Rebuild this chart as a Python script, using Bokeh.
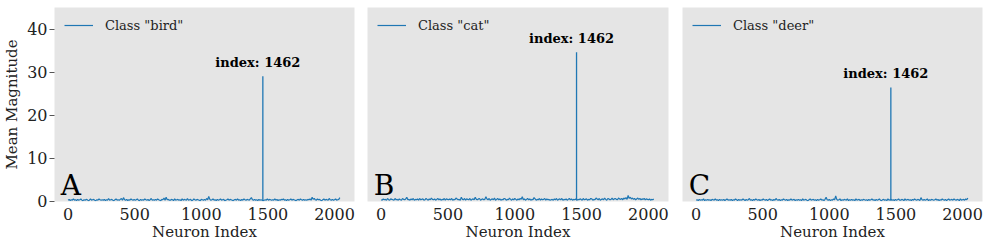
from bokeh.plotting import figure
from bokeh.layouts import row
from bokeh.models import Range1d, FixedTicker, Legend, LegendItem
from bokeh.core.properties import value
from bokeh.embed import file_html
from bokeh.resources import INLINE

# ---------------- data ----------------
class_names = ["bird", "cat", "deer"]
panel_letters = ["A", "B", "C"]
spike_index = 1462
spike_values = [29.0, 34.6, 26.4]
sample_step = 8  # neurons sampled every 8 indices (0 .. 2040)

# mean magnitudes of the non-dominant neurons, in tenths
noise_bird_tenths = [
    2, 4, 1, 3, 2, 5, 2, 3, 1, 4, 2, 3, 5, 2, 1, 3, 2, 4, 3, 1, 2, 5, 2, 3, 4, 2, 1, 3, 2, 5, 3, 2,
    3, 2, 4, 1, 3, 2, 6, 2, 3, 4, 2, 1, 3, 5, 2, 3, 2, 4, 6, 2, 8, 3, 2, 4, 1, 3, 2, 5, 3, 2, 4, 2,
    3, 5, 2, 1, 4, 2, 3, 2, 5, 3, 2, 4, 1, 3, 6, 2, 3, 2, 4, 2, 5, 3, 2, 1, 4, 3, 7, 2, 9, 3, 4, 2,
    2, 4, 3, 1, 5, 2, 3, 4, 2, 3, 1, 5, 2, 4, 3, 2, 6, 2, 3, 4, 1, 2, 5, 3, 2, 4, 3, 2, 1, 4, 3, 2,
    4, 2, 6, 3, 11, 4, 2, 3, 5, 2, 3, 1, 4, 2, 3, 5, 2, 3, 4, 1, 2, 3, 5, 2, 4, 3, 2, 1, 3, 4, 2, 5,
    2, 3, 1, 4, 2, 5, 3, 2, 4, 3, 2, 5, 8, 3, 2, 4, 2, 3, 1, 4, 2, 3, 2, 1, 2, 3, 2, 5, 2, 4, 3, 2,
    3, 2, 5, 2, 4, 1, 3, 2, 4, 3, 5, 2, 3, 1, 4, 2, 3, 5, 2, 4, 3, 2, 1, 3, 4, 2, 5, 3, 2, 4, 2, 3,
    2, 4, 3, 5, 2, 9, 4, 6, 3, 2, 5, 3, 4, 2, 1, 3, 5, 2, 4, 3, 2, 6, 3, 2, 4, 2, 3, 5, 2, 3, 4, 8,
]
noise_cat_tenths = [
    3, 2, 5, 3, 4, 2, 6, 3, 2, 5, 4, 3, 2, 6, 3, 4, 2, 5, 3, 2, 6, 4, 3, 5, 9, 3, 4, 2, 5, 3, 6, 2,
    4, 3, 5, 2, 6, 3, 4, 5, 2, 3, 6, 4, 2, 5, 3, 7, 4, 3, 5, 2, 4, 6, 3, 5, 2, 4, 3, 6, 2, 5, 4, 3,
    5, 3, 6, 2, 4, 3, 7, 5, 3, 4, 2, 9, 4, 3, 6, 2, 5, 4, 3, 6, 2, 4, 5, 3, 9, 4, 3, 5, 6, 2, 4, 5,
    3, 4, 10, 5, 3, 6, 2, 4, 5, 3, 7, 2, 4, 6, 3, 5, 2, 4, 3, 6, 5, 2, 4, 3, 7, 4, 2, 5, 3, 6, 4, 2,
    5, 3, 6, 4, 10, 3, 5, 2, 4, 6, 3, 5, 2, 4, 3, 8, 5, 2, 4, 3, 6, 2, 5, 3, 4, 6, 2, 5, 3, 4, 2, 3,
    4, 2, 5, 3, 6, 2, 4, 5, 3, 6, 2, 4, 3, 5, 2, 4, 6, 3, 5, 2, 4, 3, 5, 2, 4, 3, 5, 4, 2, 6, 3, 4,
    5, 2, 4, 3, 6, 5, 2, 4, 3, 7, 5, 3, 6, 2, 4, 5, 3, 7, 4, 2, 6, 5, 3, 4, 7, 3, 5, 6, 4, 3, 7, 5,
    4, 6, 3, 7, 5, 8, 4, 13, 6, 9, 5, 7, 4, 6, 3, 5, 7, 4, 6, 3, 5, 4, 6, 3, 5, 4, 3, 5, 2, 4, 3, 5,
]
noise_deer_tenths = [
    2, 3, 1, 4, 2, 3, 2, 5, 1, 3, 2, 4, 2, 3, 1, 4, 3, 2, 5, 2, 3, 1, 4, 2, 3, 2, 4, 1, 3, 5, 2, 3,
    2, 4, 1, 3, 2, 5, 3, 1, 4, 2, 3, 2, 5, 3, 1, 4, 2, 3, 6, 2, 3, 1, 4, 2, 5, 3, 2, 4, 1, 3, 2, 5,
    3, 2, 4, 1, 3, 5, 2, 3, 1, 4, 2, 6, 3, 2, 4, 1, 3, 2, 5, 3, 2, 4, 1, 3, 2, 5, 2, 3, 4, 1, 3, 2,
    4, 2, 3, 1, 5, 2, 3, 4, 2, 1, 3, 5, 2, 3, 4, 2, 3, 1, 4, 2, 3, 5, 2, 3, 1, 4, 9, 3, 2, 4, 1, 3,
    2, 5, 3, 12, 4, 2, 3, 5, 1, 3, 2, 4, 3, 2, 5, 1, 3, 2, 4, 2, 3, 1, 5, 2, 3, 4, 1, 3, 2, 4, 3, 2,
    3, 1, 4, 2, 3, 5, 2, 3, 1, 4, 2, 3, 5, 2, 1, 3, 4, 2, 3, 1, 5, 2, 3, 4, 2, 3, 1, 4, 2, 3, 5, 2,
    2, 4, 3, 1, 5, 2, 3, 4, 2, 3, 1, 4, 2, 5, 3, 2, 4, 3, 1, 8, 3, 2, 4, 2, 3, 5, 1, 3, 2, 4, 3, 2,
    3, 5, 2, 4, 1, 3, 2, 5, 3, 2, 4, 1, 3, 5, 2, 3, 4, 2, 5, 3, 2, 4, 3, 1, 5, 2, 3, 4, 2, 5, 3, 7,
]
noise_series = [noise_bird_tenths, noise_cat_tenths, noise_deer_tenths]

x_ticks = [0, 500, 1000, 1500, 2000]
y_ticks = [0, 10, 20, 30, 40]

# ---------------- style ----------------
LINE = "#1f77b4"
BG = "#e5e5e5"
SERIF = "DejaVu Serif"
TXT = "#222222"

widths = [360, 315, 320]
borders_left = [53, 7, 7]
borders_right = [6, 7, 13]
FIG_H = 248
BORDER_TOP = 7
BORDER_BOTTOM = 47
FRAME_H = FIG_H - BORDER_TOP - BORDER_BOTTOM

figs = []
for i, (name, letter, spike, noise) in enumerate(zip(class_names, panel_letters, spike_values, noise_series)):
    xs = [k * sample_step for k in range(len(noise))]
    ys = [v / 10 for v in noise]

    p = figure(width=widths[i], height=FIG_H, output_backend="svg", toolbar_location=None,
               x_range=Range1d(-102, 2150), y_range=Range1d(-0.1, 45),
               min_border_left=borders_left[i], min_border_right=borders_right[i],
               min_border_top=BORDER_TOP, min_border_bottom=BORDER_BOTTOM)
    p.background_fill_color = BG
    p.border_fill_color = "white"
    p.outline_line_color = None
    p.grid.visible = False

    r = p.line(xs, ys, line_color=LINE, line_width=1.2)
    # the dominant neuron
    p.segment(x0=[spike_index], y0=[min(ys)], x1=[spike_index], y1=[spike],
              line_color=LINE, line_width=1.3)

    # annotation
    p.text(x=[spike_index], y=[spike], text=[f"index: {spike_index}"],
           text_font=value(SERIF), text_font_style="bold", text_font_size="13px",
           text_align="center", text_baseline="alphabetic", x_offset=-5, y_offset=-14,
           text_color="black")
    # panel letter
    p.text(x=[-55], y=[0], text=[letter], text_font=value(SERIF),
           text_font_size="28px", text_align="left", text_baseline="alphabetic",
           y_offset=-16, text_color="black")

    legend = Legend(items=[LegendItem(label=f'Class "{name}"', renderers=[r])],
                    location=(10, FRAME_H - 18 - 9), padding=0, margin=0, spacing=0,
                    glyph_width=29, glyph_height=18, label_standoff=12,
                    label_text_font=SERIF, label_text_font_size="13px",
                    label_text_color=TXT,
                    background_fill_alpha=0, border_line_color=None)
    p.add_layout(legend)

    p.xaxis.ticker = FixedTicker(ticks=x_ticks)
    p.xaxis.axis_label = "Neuron Index"
    p.xaxis.major_tick_line_color = None
    p.xaxis.minor_tick_line_color = None
    p.xaxis.axis_line_color = None
    p.xaxis.major_label_text_font = SERIF
    p.xaxis.major_label_text_font_size = "16px"
    p.xaxis.major_label_text_color = TXT
    p.xaxis.major_label_standoff = 0
    p.xaxis.axis_label_text_font = SERIF
    p.xaxis.axis_label_text_font_size = "15px"
    p.xaxis.axis_label_text_font_style = "normal"
    p.xaxis.axis_label_text_color = TXT
    p.xaxis.axis_label_standoff = 0

    if i == 0:
        p.yaxis.ticker = FixedTicker(ticks=y_ticks)
        p.yaxis.axis_label = "Mean Magnitude"
        p.yaxis.major_tick_line_color = "#555555"
        p.yaxis.major_tick_out = 5
        p.yaxis.major_tick_in = 0
        p.yaxis.minor_tick_line_color = None
        p.yaxis.axis_line_color = None
        p.yaxis.major_label_text_font = SERIF
        p.yaxis.major_label_text_font_size = "16px"
        p.yaxis.major_label_text_color = TXT
        p.yaxis.major_label_standoff = 2
        p.yaxis.axis_label_text_font = SERIF
        p.yaxis.axis_label_text_font_size = "15px"
        p.yaxis.axis_label_text_font_style = "normal"
        p.yaxis.axis_label_text_color = TXT
        p.yaxis.axis_label_standoff = 3
    else:
        p.yaxis.visible = False
    figs.append(p)

layout = row(*figs, spacing=0)
open("out.html", "w").write(file_html(layout, INLINE))
